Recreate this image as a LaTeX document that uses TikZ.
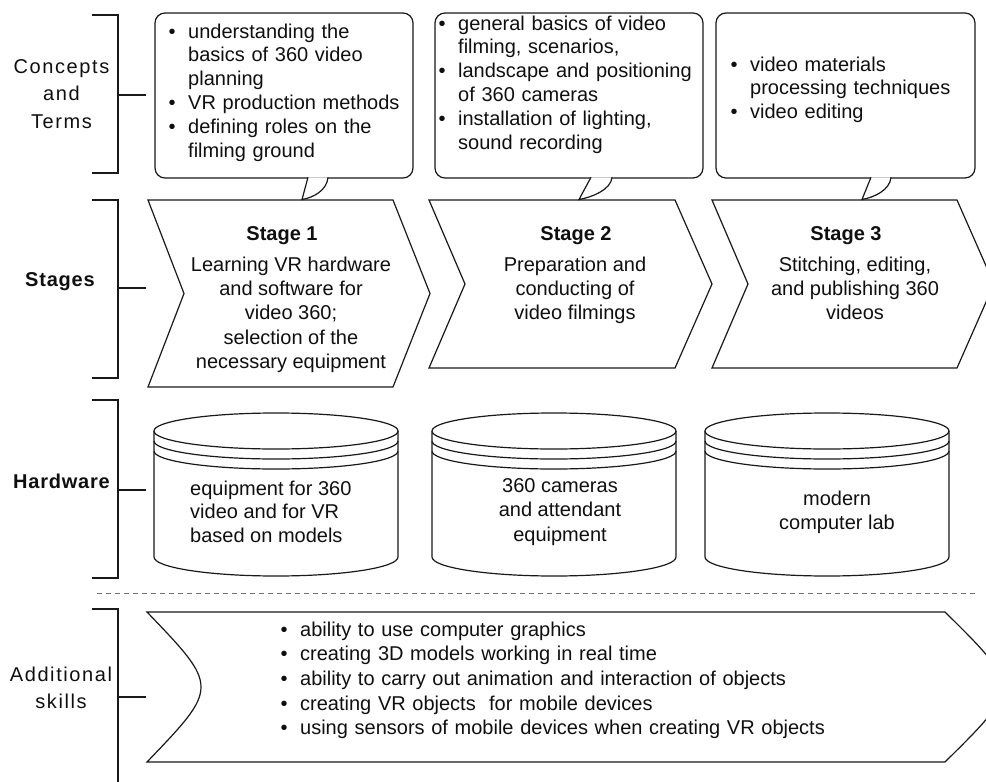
\documentclass[tikz,border=0pt]{standalone}
\usepackage{fontspec}
\setmainfont{Liberation Sans}
\newfontfamily\labelfont[LetterSpace=8]{Liberation Sans}
\newfontfamily\labelboldfont[LetterSpace=4]{Liberation Sans}
\usetikzlibrary{calc}

\newcommand{\bitem}[1]{\noindent\hangindent=19.5pt\hangafter=1\makebox[19.5pt][l]{\textbullet}#1\par}

\begin{document}
\begin{tikzpicture}[x=1pt, y=-1pt,
    outline/.style={draw=lineink, line width=1.2pt},
    bracketline/.style={draw=lineink, line width=2.8pt},
    tickline/.style={draw=lineink, line width=1.8pt},
    sepline/.style={draw=black!55, line width=1pt, dash pattern=on 5pt off 4pt},
    callout/.style={outline, rounded corners=10pt, inner sep=0pt},
    listtext/.style={anchor=base west, inner sep=0pt, text width=#1, align=left, text=textink,
        font=\fontsize{20}{23.8}\selectfont},
    plaintext/.style={inner sep=0pt, text=textink, font=\fontsize{20}{24}\selectfont},
    stagehead/.style={anchor=base, inner sep=0pt, text=textink, font=\fontsize{20}{24}\selectfont\bfseries},
    sidelabel/.style={anchor=base, inner sep=0pt, align=center, text=textink,
        font=\labelfont\fontsize{20}{27.5}\selectfont},
    sidebold/.style={anchor=base, inner sep=0pt, text=textink,
        font=\labelboldfont\fontsize{20}{24}\selectfont\bfseries}]

    % Colours
    \definecolor{lineink}{RGB}{25,25,25}
    \definecolor{textink}{RGB}{15,15,15}

    \clip (0,0) rectangle (986,782);

    % 1. Brackets on the left with their ticks
    \foreach \ya/\yb/\ym in {15/173/95, 200/378/288, 400/578/490, 609/800/697} {
        \draw[bracketline] (92,\ya) -- (118,\ya) -- (118,\yb) -- (92,\yb);
        \draw[tickline] (118,\ym) -- (146,\ym);
    }

    % 2. Row labels (base = last line)
    \node[sidelabel] (concepts) at (61.5,128) {Concepts\\and\\Terms};
    \node[sidebold] (stages) at (60,286) {Stages};
    \node[sidebold] (hardware) at (61.5,488) {Hardware};
    \node[sidelabel] (skills) at (61,708.5) {Additional\\skills};

    % 3. Stage chevrons
    \foreach \l/\r/\ya/\yb in {148/393/200/387, 429/675/200/368, 712/957/200/368} {
        \draw[outline] (\l,\ya) -- (\r,\ya) -- ({\r+37},{(\ya+\yb)/2}) -- (\r,\yb)
            -- (\l,\yb) -- ({\l+36},{(\ya+\yb)/2}) -- cycle;
    }
    \node[stagehead] (s1h) at (282,240) {Stage 1};
    \node[plaintext, anchor=base, align=center, font=\fontsize{20}{24.4}\selectfont] (s1b) at (291,368.6)
        {Learning VR hardware\\and software for\\video 360;\\selection of the\\necessary equipment};
    \node[stagehead] (s2h) at (576,240) {Stage 2};
    \node[plaintext, anchor=base, align=center, font=\fontsize{20}{24.4}\selectfont] (s2b) at (575,319.8)
        {Preparation and\\conducting of\\video filmings};
    \node[stagehead] (s3h) at (846,240) {Stage 3};
    \node[plaintext, anchor=base, align=center, font=\fontsize{20}{24.4}\selectfont] (s3b) at (855,319.8)
        {Stitching, editing,\\and publishing 360\\videos};

    % 4. Callouts with concepts and terms
    \node[callout, minimum width=258pt, minimum height=165pt] (c1) at (284,95.5) {};
    \node[callout, minimum width=268pt, minimum height=165pt] (c2) at (569,95.5) {};
    \node[callout, minimum width=259pt, minimum height=165pt] (c3) at (845.5,95.5) {};

    \coordinate (tip1) at (302,199.5);
    \coordinate (tip2) at (579,199.5);
    \coordinate (tip3) at (862,199.5);
    \foreach \a/\b/\t in {308/328/tip1, 591/612/tip2, 871/891/tip3} {
        \draw[outline, fill=white] (\a,177.3) -- (\t) .. controls ($(\t)+(12,-2)$) and (\b-1,190) .. (\b,177.3);
    }

    \node[listtext=250pt] (t1) at (168.5,38) {%
        \bitem{understanding the\newline basics of 360 video\newline planning}%
        \bitem{VR production methods}%
        \bitem{defining roles on the\newline filming ground}};
    \node[listtext=260pt] (t2) at (438.5,30) {%
        \bitem{general basics of video\newline filming, scenarios,}%
        \bitem{landscape and positioning\newline of 360 cameras}%
        \bitem{installation of lighting,\newline sound recording}};
    \node[listtext=250pt] (t3) at (730.5,71) {%
        \bitem{video materials\newline processing techniques}%
        \bitem{video editing}};

    % 5. Hardware cylinders
    \foreach \l/\r in {154/398, 432/676, 705/949} {
        \draw[outline] (\l,431) -- (\l,557) arc[start angle=180, end angle=0, x radius={(\r-\l)/2}, y radius=19] -- (\r,431);
        \draw[outline] ({(\l+\r)/2},431) ellipse[x radius={(\r-\l)/2}, y radius=18];
        \draw[outline] (\l,441) arc[start angle=180, end angle=0, x radius={(\r-\l)/2}, y radius=18];
        \draw[outline] (\l,451) arc[start angle=180, end angle=0, x radius={(\r-\l)/2}, y radius=18];
    }
    \node[plaintext, anchor=base west, align=left, font=\fontsize{20}{23.5}\selectfont] (h1) at (190,542)
        {equipment for 360\\video and for VR\\based on models};
    \node[plaintext, anchor=base, align=center, font=\fontsize{20}{24.5}\selectfont] (h2) at (560,541)
        {360 cameras\\and attendant\\equipment};
    \node[plaintext, anchor=base, align=center, font=\fontsize{20}{24.5}\selectfont] (h3) at (837,529.5)
        {modern\\computer lab};

    % 6. Separator and additional skills
    \draw[sepline] (97,593) -- (978,593);
    \draw[outline] (147,612) -- (945,612) .. controls (1021,687) .. (945,762)
        -- (147,762) .. controls (219,687) .. (147,612) -- cycle;
    \node[listtext=700pt, font=\fontsize{20}{24.7}\selectfont] (sk) at (280.5,636) {%
        \bitem{ability to use computer graphics}%
        \bitem{creating 3D models working in real time}%
        \bitem{ability to carry out animation and interaction of objects}%
        \bitem{creating VR objects\ \ for mobile devices}%
        \bitem{using sensors of mobile devices when creating VR objects}};

\end{tikzpicture}
\end{document}
